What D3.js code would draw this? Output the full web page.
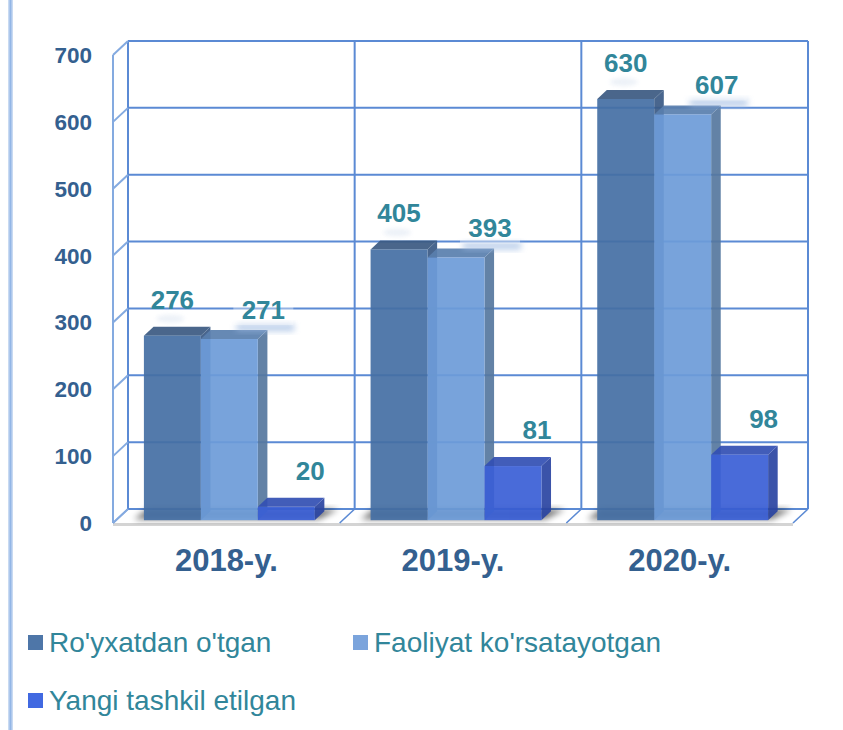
<!DOCTYPE html>
<html>
<head>
<meta charset="utf-8">
<script src="https://cdn.jsdelivr.net/npm/d3@7"></script>
<style>
  html, body { margin: 0; padding: 0; background: #ffffff; }
  svg { display: block; }
</style>
</head>
<body>
<svg id="chart" width="843" height="730"></svg>
<script>
// ---------- data ----------
const categories = ["2018-y.", "2019-y.", "2020-y."];
const seriesNames = ["Ro'yxatdan o'tgan", "Faoliyat ko'rsatayotgan", "Yangi tashkil etilgan"];
const registered = [276, 405, 630];
const active = [271, 393, 607];
const newlyCreated = [20, 81, 98];
const yTicks = [0, 100, 200, 300, 400, 500, 600, 700];

const seriesValues = [registered, active, newlyCreated];

// ---------- styles ----------
const front = ["#456fa4", "#6d9cd9", "#3a5fd6"];
const topC  = ["#3b5a82", "#5a7fae", "#3350b4"];
const sideC = ["#3a5a85", "#56789f", "#2b45a2"];
const legendC = ["#4e76a8", "#7ba4dc", "#4169e1"];
const tealText = "#31869a";
const axisText = "#34608f";
const gridC = "#5b8ad4";
const sideGridC = "#84aae0";

const svg = d3.select("#chart");
const defs = svg.append("defs");
defs.append("filter").attr("id", "blur3").attr("x", "-50%").attr("y", "-50%").attr("width", "200%").attr("height", "200%")
  .append("feGaussianBlur").attr("stdDeviation", 3);
defs.append("filter").attr("id", "blur2").attr("x", "-50%").attr("y", "-50%").attr("width", "200%").attr("height", "200%")
  .append("feGaussianBlur").attr("stdDeviation", 2);
const lg = defs.append("linearGradient").attr("id", "edge").attr("x1", "0").attr("x2", "1").attr("y1", "0").attr("y2", "0");
lg.append("stop").attr("offset", "0").attr("stop-color", "#d6e3f5");
lg.append("stop").attr("offset", "0.5").attr("stop-color", "#93b6e6");
lg.append("stop").attr("offset", "1").attr("stop-color", "#d6e3f5");

// left decorative edge
svg.append("rect").attr("x", 8).attr("y", 0).attr("width", 5).attr("height", 730).attr("fill", "url(#edge)");

// ---------- geometry ----------
const x0 = 128, x1 = 808;
const y = d3.scaleLinear().domain([0, 700]).range([509, 41]);
const x = d3.scaleBand().domain(categories).range([x0, x1]).paddingInner(0).paddingOuter(0);
const xs = d3.scaleBand().domain(seriesNames).range([0, x.bandwidth()]).paddingInner(0).paddingOuter(0.49);
const D = {dx: -15, dy: 14};        // wall depth (back -> front)
const fd = 0.8, bd = 0.16;          // bar front / back depth fractions
const bdx = (fd - bd) * -D.dx;      // bar depth: towards back = up-right
const bdy = (fd - bd) * D.dy;

const g = svg.append("g");

// floor
const yb = y(0);
g.append("polygon")
  .attr("points", [[x0, yb], [x1, yb], [x1 + D.dx, yb + D.dy], [x0 + D.dx, yb + D.dy]].join(" "))
  .attr("fill", "#ffffff");
g.append("line").attr("x1", x0 + D.dx).attr("x2", x1 + D.dx)
  .attr("y1", yb + D.dy + 1.5).attr("y2", yb + D.dy + 1.5)
  .attr("stroke", "#d4d4d4").attr("stroke-width", 3);

// back wall gridlines
g.selectAll(".hgrid").data(yTicks).join("line")
  .attr("x1", x0).attr("x2", x1).attr("y1", d => y(d)).attr("y2", d => y(d))
  .attr("stroke", gridC).attr("stroke-width", 2);
const dividers = categories.map(c => x(c)).concat([x1]);
g.selectAll(".vgrid").data(dividers).join("line")
  .attr("x1", d => d).attr("x2", d => d).attr("y1", y(700)).attr("y2", yb)
  .attr("stroke", gridC).attr("stroke-width", 2);
// floor dividers
g.selectAll(".fgrid").data(dividers).join("line")
  .attr("x1", d => d).attr("x2", d => d + D.dx).attr("y1", yb).attr("y2", yb + D.dy)
  .attr("stroke", gridC).attr("stroke-width", 1.6);
// side wall
g.selectAll(".sgrid").data(yTicks).join("line")
  .attr("x1", x0 + D.dx).attr("x2", x0).attr("y1", d => y(d) + D.dy).attr("y2", d => y(d))
  .attr("stroke", sideGridC).attr("stroke-width", 2);
g.append("line").attr("x1", x0 + D.dx).attr("x2", x0 + D.dx)
  .attr("y1", y(700) + D.dy).attr("y2", yb + D.dy)
  .attr("stroke", sideGridC).attr("stroke-width", 2);

// floor shadows under bars
categories.forEach((c, ci) => {
  const left = x(c) + xs(seriesNames[0]) + D.dx * fd;
  const right = x(c) + xs(seriesNames[2]) + xs.bandwidth() + D.dx * fd;
  const fy = yb + D.dy * fd;
  g.append("polygon")
    .attr("points", [[left - 10, fy - 1], [right + 4, fy - 1], [right + bdx + 14, fy - bdy - 2], [left + bdx - 6, fy - bdy - 2]].join(" "))
    .attr("fill", "#000").attr("opacity", 0.55).attr("filter", "url(#blur3)");
});

// bars
seriesNames.forEach((s, si) => {
  categories.forEach((c, ci) => {
    const v = seriesValues[si][ci];
    const bx0 = x(c) + xs(s) + D.dx * fd;
    const bx1 = bx0 + xs.bandwidth();
    const yt = y(v) + D.dy * fd;
    const ybot = yb + D.dy * fd;
    const bar = g.append("g").attr("opacity", 0.92);
    bar.append("polygon")
      .attr("points", [[bx1, yt], [bx1 + bdx, yt - bdy], [bx1 + bdx, ybot - bdy], [bx1, ybot]].join(" "))
      .attr("fill", sideC[si]);
    bar.append("polygon")
      .attr("points", [[bx0, yt], [bx1, yt], [bx1 + bdx, yt - bdy], [bx0 + bdx, yt - bdy]].join(" "))
      .attr("fill", topC[si]);
    bar.append("rect").attr("x", bx0).attr("y", yt).attr("width", bx1 - bx0).attr("height", ybot - yt)
      .attr("fill", front[si]);
  });
});

// data labels
const labOff = [{dx: 0, dy: -18}, {dx: 34, dy: -11}, {dx: 24, dy: -18}];
seriesNames.forEach((s, si) => {
  categories.forEach((c, ci) => {
    const v = seriesValues[si][ci];
    const cx = x(c) + xs(s) + xs.bandwidth() / 2 + D.dx * fd + labOff[si].dx;
    const by = y(v) + D.dy * fd - bdy + labOff[si].dy;
    if (si === 1) {
      g.append("rect").attr("x", cx - 27).attr("y", by + 5).attr("width", 58).attr("height", 7)
        .attr("fill", "#9ab7e0").attr("opacity", 0.7).attr("filter", "url(#blur3)");
      g.append("rect").attr("x", cx - 30).attr("y", by - 25).attr("width", 60).attr("height", 31)
        .attr("fill", "#ffffff").attr("opacity", 0.35);
    } else if (si === 0) {
      g.append("ellipse").attr("cx", cx - 2).attr("cy", by + 10).attr("rx", 14).attr("ry", 4)
        .attr("fill", "#e8eef6").attr("opacity", 0.8).attr("filter", "url(#blur2)");
    }
    g.append("text").attr("x", cx).attr("y", by)
      .attr("text-anchor", "middle")
      .attr("font-family", "Liberation Sans, Arial, sans-serif")
      .attr("font-weight", "bold").attr("font-size", 26)
      .attr("fill", tealText).text(v);
  });
});

// y axis labels
g.selectAll(".ytick").data(yTicks).join("text")
  .attr("x", 92).attr("y", d => y(d) + D.dy + 8)
  .attr("text-anchor", "end")
  .attr("font-family", "Liberation Sans, Arial, sans-serif")
  .attr("font-weight", "bold").attr("font-size", 22.5)
  .attr("fill", axisText).text(d => d);

// category labels
g.selectAll(".xcat").data(categories).join("text")
  .attr("x", d => x(d) + x.bandwidth() / 2 + D.dx)
  .attr("y", 571)
  .attr("text-anchor", "middle")
  .attr("font-family", "Liberation Sans, Arial, sans-serif")
  .attr("font-weight", "bold").attr("font-size", 31)
  .attr("fill", axisText).text(d => d);

// legend
const legPos = [[28, 635], [353, 635], [28, 693]];
const leg = svg.append("g");
seriesNames.forEach((s, si) => {
  const [lx, ly] = legPos[si];
  leg.append("rect").attr("x", lx).attr("y", ly).attr("width", 15).attr("height", 15).attr("fill", legendC[si]);
  leg.append("text").attr("x", lx + 21).attr("y", ly + 17)
    .attr("font-family", "Liberation Sans, Arial, sans-serif")
    .attr("font-size", 28).attr("fill", tealText).text(s);
});
</script>
</body>
</html>
